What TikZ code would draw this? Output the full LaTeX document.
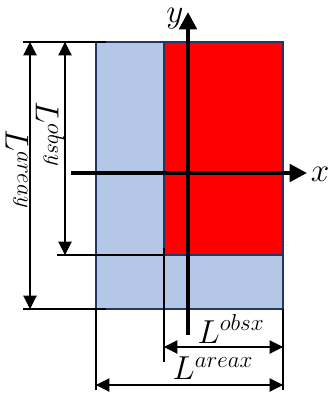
\documentclass[tikz,border=0pt]{standalone}
\usepackage{amsmath, amssymb}
\usetikzlibrary{arrows.meta}
\definecolor{areablue}{RGB}{180, 199, 231}
\definecolor{edgeblue}{RGB}{32, 56, 100}
\tikzset{
  region/.style={draw=edgeblue, line width=1.4pt},
  extline/.style={black, line width=0.8pt},
  dimline/.style={black, line width=0.8pt,
    {Triangle[width=10pt, length=10pt]}-{Triangle[width=10pt, length=10pt]}},
  axisline/.style={black, line width=3pt, -{Triangle[width=13pt, length=13pt]}},
  lbl/.style={font=\fontsize{25}{29}\selectfont, inner sep=0pt},
}

\begin{document}
\begin{tikzpicture}[x=0.75pt, y=0.75pt]
        \useasboundingbox (0,0) rectangle (329,-397);
        % area and observed region
        \fill[areablue, region] (96,-42) rectangle (283,-309);
        \fill[red, region] (164,-42) rectangle (283,-255);
        % extension lines
        \coordinate (topL) at (23,-42);
        \coordinate (topR) at (106,-42);
        \coordinate (botL) at (23,-309);
        \coordinate (botR) at (106,-309);
        \coordinate (obsL) at (57,-255);
        \coordinate (obsR) at (164,-255);
        \coordinate (exAL) at (96,-309);
        \coordinate (exAL2) at (96,-390);
        \coordinate (exAR) at (283,-309);
        \coordinate (exAR2) at (283,-390);
        \coordinate (exO) at (164,-248);
        \coordinate (exO2) at (164,-362);
        \draw[extline] (topL) -- (topR);
        \draw[extline] (botL) -- (botR);
        \draw[extline] (obsL) -- (obsR);
        \draw[extline] (exAL) -- (exAL2);
        \draw[extline] (exAR) -- (exAR2);
        \draw[extline] (exO) -- (exO2);
        % dimension arrows
        \coordinate (ayT) at (30,-42);
        \coordinate (ayB) at (30,-309);
        \coordinate (oyT) at (65,-42);
        \coordinate (oyB) at (65,-255);
        \coordinate (oxL) at (164,-347);
        \coordinate (oxR) at (283,-347);
        \coordinate (axL) at (96,-385);
        \coordinate (axR) at (283,-385);
        \draw[dimline] (ayT) -- (ayB);
        \draw[dimline] (oyT) -- (oyB);
        \draw[dimline] (oxL) -- (oxR);
        \draw[dimline] (axL) -- (axR);
        \node[lbl, rotate=-90] (lareay) at (17,-169) {$L^{areay}$};
        \node[lbl, rotate=-90] (lobsy) at (50,-134) {$L^{obsy}$};
        \node[lbl] (lobsx) at (231,-329) {$L^{obsx}$};
        \node[lbl] (lareax) at (213,-368) {$L^{areax}$};
        % axes
        \coordinate (xs) at (71,-173);
        \coordinate (xe) at (307,-173);
        \coordinate (ys) at (188,-335);
        \coordinate (ye) at (188,-12);
        \draw[axisline] (xs) -- (xe);
        \draw[axisline] (ys) -- (ye);
        \node[lbl] (xlab) at (320,-174) {$x$};
        \node[lbl, anchor=base] (ylab) at (175,-22) {$y$};
      \end{tikzpicture}
\end{document}
